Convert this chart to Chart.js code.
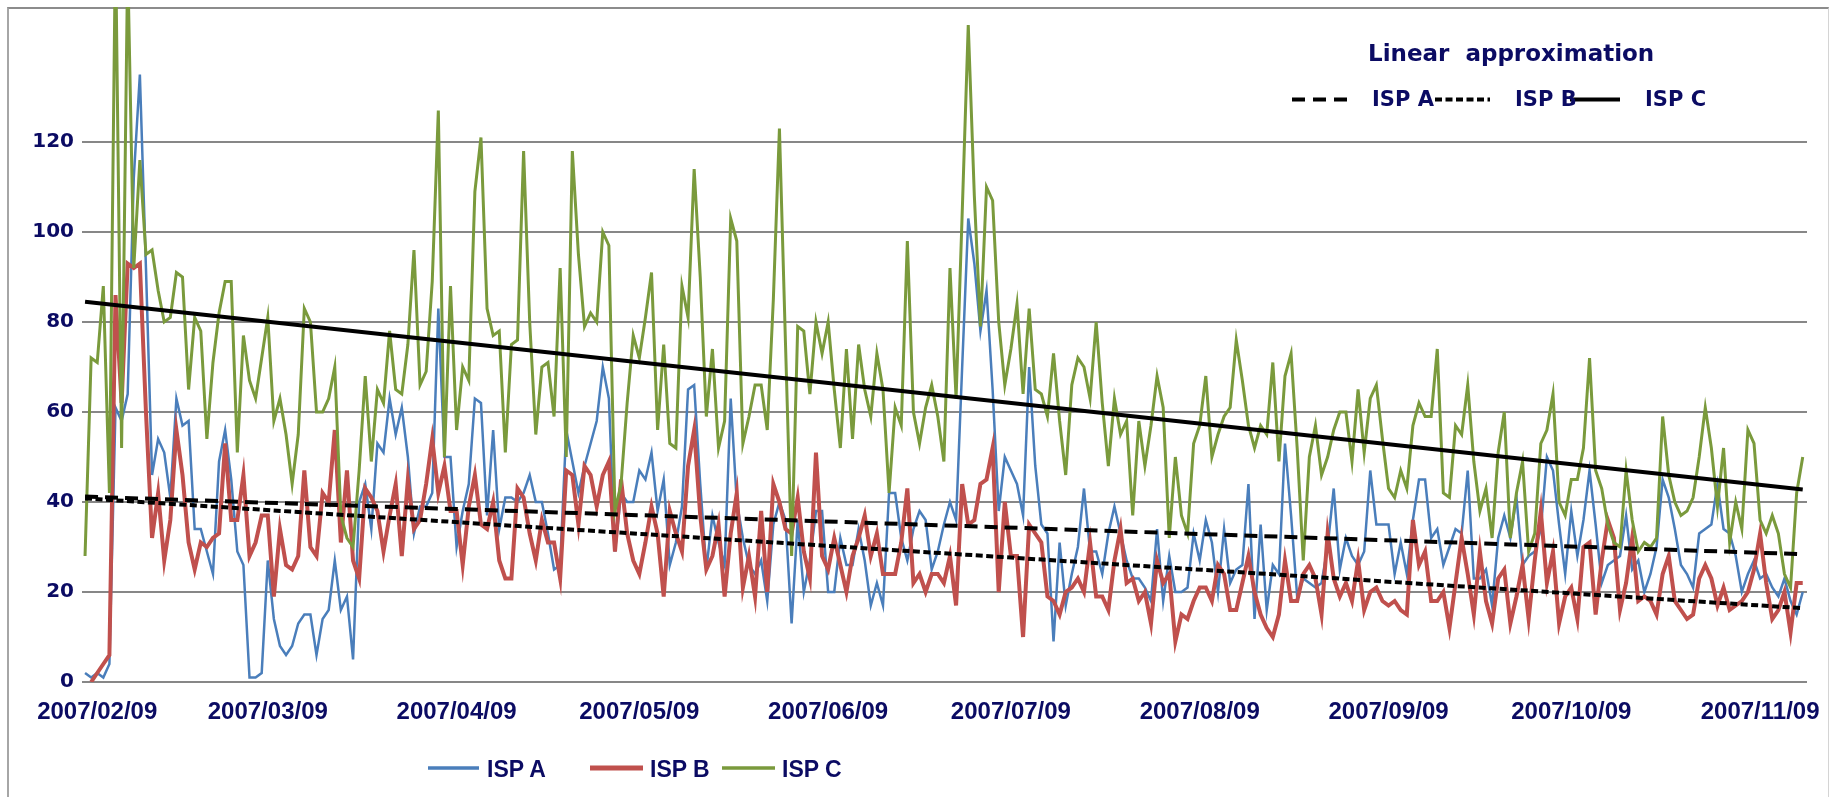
<!DOCTYPE html>
<html>
<head>
<meta charset="utf-8">
<title>ISP A / ISP B / ISP C</title>
<script src="https://cdn.jsdelivr.net/npm/chart.js@4.4.1/dist/chart.umd.min.js"></script>
<style>
  html, body { margin: 0; padding: 0; background: #fff; }
  #wrap { position: relative; width: 1829px; height: 797px; overflow: hidden; }
  #frame {
    position: absolute; left: 7px; top: 7px; width: 1822px; height: 820px;
    border-left: 2px solid #a6a6a6; border-top: 2px solid #8c8c8c; border-right: 1px solid #d4d4d4;
    box-sizing: border-box;
  }
  #salesChart { position: absolute; left: 0; top: 0; }
  #marks { position: absolute; left: 0; top: 0; }
  .txt { position: absolute; white-space: pre; color: #0b0b63; font-weight: bold; line-height: 1; }
  .wide { font-family: "DejaVu Sans", Verdana, sans-serif; }
  .arial { font-family: "Liberation Sans", Arial, sans-serif; }
</style>
</head>
<body>
<div id="wrap">
  <div id="frame"></div>
  <canvas id="salesChart" width="1829" height="797"></canvas>

  <!-- legend line samples -->
  <svg id="marks" width="1829" height="797">
    <line x1="1292" y1="99.5" x2="1347" y2="99.5" stroke="#000" stroke-width="4" stroke-dasharray="13 8"/>
    <line x1="1435" y1="99.5" x2="1490" y2="99.5" stroke="#000" stroke-width="4" stroke-dasharray="7 3.5"/>
    <line x1="1570" y1="99.5" x2="1620" y2="99.5" stroke="#000" stroke-width="4"/>
    <line x1="428" y1="768" x2="479" y2="768" stroke="#4a7ebb" stroke-width="3.5"/>
    <line x1="590" y1="768" x2="643" y2="768" stroke="#c0504d" stroke-width="5"/>
    <line x1="722" y1="768" x2="775" y2="768" stroke="#7a9a3c" stroke-width="3.5"/>
  </svg>

  <div class="txt wide" style="left:1368px; top:42px; font-size:23px;">Linear  approximation</div>
  <div class="txt wide" style="left:1372px; top:89px; font-size:21px;">ISP A</div>
  <div class="txt wide" style="left:1515px; top:89px; font-size:21px;">ISP B</div>
  <div class="txt wide" style="left:1645px; top:89px; font-size:21px;">ISP C</div>

  <div class="txt arial" style="left:487px; top:758px; font-size:23px;">ISP A</div>
  <div class="txt arial" style="left:650px; top:758px; font-size:23px;">ISP B</div>
  <div class="txt arial" style="left:782px; top:758px; font-size:23px;">ISP C</div>
</div>

<script>
// one value per day, starting 2007/02/07
const ispA = [
    2, 1, 2, 1, 4, 61, 58, 64, 112, 135,
    92, 46, 54, 51, 41, 63, 57, 58, 34, 34,
    29, 24, 49, 56, 45, 29, 26, 1, 1, 2,
    27, 14, 8, 6, 8, 13, 15, 15, 6, 14,
    16, 27, 16, 19, 5, 40, 44, 34, 53, 51,
    63, 55, 61, 50, 33, 39, 39, 42, 83, 50,
    50, 30, 38, 44, 63, 62, 37, 56, 34, 41,
    41, 40, 42, 46, 40, 40, 33, 25, 26, 56,
    49, 42, 48, 53, 58, 70, 63, 29, 42, 40,
    40, 47, 45, 51, 38, 45, 26, 31, 39, 65,
    66, 44, 25, 37, 31, 26, 63, 40, 32, 26,
    24, 27, 18, 35, 40, 36, 13, 36, 20, 27,
    38, 38, 20, 20, 32, 26, 26, 34, 27, 17,
    22, 17, 42, 42, 32, 27, 34, 38, 36, 25,
    29, 35, 40, 36, 70, 103, 93, 78, 87, 65,
    38, 50, 47, 44, 37, 70, 48, 35, 33, 9,
    31, 17, 24, 30, 43, 29, 29, 24, 33, 39,
    33, 27, 23, 23, 21, 18, 34, 18, 28, 20,
    20, 21, 33, 27, 36, 31, 20, 34, 22, 25,
    26, 44, 14, 35, 16, 26, 24, 53, 37, 19,
    23, 22, 21, 22, 30, 43, 25, 32, 28, 26,
    29, 47, 35, 35, 35, 24, 31, 24, 36, 45,
    45, 32, 34, 26, 30, 34, 33, 47, 23, 23,
    25, 17, 32, 37, 32, 41, 26, 28, 29, 34,
    50, 47, 35, 24, 38, 28, 36, 47, 35, 22,
    26, 27, 28, 37, 25, 27, 20, 24, 30, 45,
    41, 34, 26, 24, 21, 33, 34, 35, 44, 34,
    33, 28, 20, 24, 27, 23, 24, 21, 19, 23,
    18, 15, 20
];

const ispB = [
    null, 0, 2, 4, 6, 86, 62, 93, 92, 93,
    60, 32, 42, 27, 36, 56, 46, 31, 25, 31,
    30, 32, 33, 53, 36, 36, 46, 28, 31, 37,
    37, 19, 34, 26, 25, 28, 47, 30, 28, 42,
    40, 56, 31, 47, 27, 23, 43, 41, 38, 29,
    37, 44, 28, 45, 34, 36, 44, 54, 42, 48,
    38, 38, 26, 39, 46, 35, 34, 40, 27, 23,
    23, 43, 41, 33, 27, 36, 31, 31, 23, 47,
    46, 35, 48, 46, 39, 46, 49, 29, 45, 33,
    27, 24, 31, 39, 33, 19, 38, 33, 29, 48,
    56, 37, 25, 28, 35, 19, 33, 42, 21, 28,
    19, 38, 20, 44, 40, 34, 33, 41, 29, 23,
    51, 28, 25, 32, 26, 20, 28, 32, 37, 28,
    33, 24, 24, 24, 31, 43, 22, 24, 20, 24,
    24, 22, 28, 17, 44, 35, 36, 44, 45, 52,
    20, 40, 28, 28, 10, 35, 33, 31, 19, 18,
    15, 20, 21, 23, 20, 31, 19, 19, 16, 27,
    34, 22, 23, 18, 20, 13, 27, 22, 24, 9,
    15, 14, 18, 21, 21, 18, 26, 24, 16, 16,
    22, 28, 20, 15, 12, 10, 15, 27, 18, 18,
    24, 26, 23, 15, 33, 23, 19, 22, 18, 27,
    16, 20, 21, 18, 17, 18, 16, 15, 36, 26,
    29, 18, 18, 20, 12, 22, 32, 24, 15, 29,
    18, 13, 23, 25, 13, 19, 26, 14, 27, 38,
    22, 29, 13, 19, 21, 14, 30, 31, 15, 27,
    36, 32, 16, 22, 32, 18, 19, 18, 15, 24,
    28, 18, 16, 14, 15, 23, 26, 23, 17, 21,
    16, 17, 18, 20, 25, 33, 22, 14, 16, 20,
    11, 22, 22
];

const ispC = [
    28, 72, 71, 88, 42, 165, 52, 160, 92, 116,
    95, 96, 87, 80, 81, 91, 90, 65, 81, 78,
    54, 71, 82, 89, 89, 51, 77, 67, 63, 72,
    81, 58, 63, 55, 44, 55, 83, 80, 60, 60,
    63, 70, 37, 32, 30, 47, 68, 49, 65, 62,
    78, 65, 64, 75, 96, 66, 69, 89, 127, 50,
    88, 56, 70, 67, 109, 121, 83, 77, 78, 51,
    75, 76, 118, 80, 55, 70, 71, 59, 92, 50,
    118, 95, 79, 82, 80, 100, 97, 38, 44, 62,
    77, 72, 81, 91, 56, 75, 53, 52, 88, 81,
    114, 90, 59, 74, 52, 58, 103, 98, 53, 59,
    66, 66, 56, 85, 123, 75, 28, 79, 78, 64,
    80, 73, 80, 65, 52, 74, 54, 75, 65, 59,
    73, 65, 42, 61, 57, 98, 60, 53, 61, 66,
    59, 49, 92, 63, 104, 146, 108, 79, 110, 107,
    80, 66, 74, 84, 64, 83, 65, 64, 59, 73,
    58, 46, 66, 72, 70, 63, 80, 62, 48, 63,
    55, 58, 37, 58, 48, 57, 68, 61, 32, 50,
    37, 33, 53, 57, 68, 50, 55, 59, 61, 76,
    67, 57, 52, 57, 55, 71, 49, 68, 73, 52,
    27, 50, 57, 46, 50, 56, 60, 60, 49, 65,
    51, 63, 66, 54, 43, 41, 47, 43, 57, 62,
    59, 59, 74, 42, 41, 57, 55, 66, 49, 38,
    43, 32, 51, 60, 32, 42, 49, 29, 33, 53,
    56, 64, 40, 37, 45, 45, 52, 72, 47, 43,
    35, 31, 30, 47, 36, 29, 31, 30, 32, 59,
    46, 40, 37, 38, 41, 50, 61, 52, 39, 52,
    31, 40, 34, 56, 53, 36, 33, 37, 33, 24,
    21, 42, 50
];

// linear approximation, value at first and last day
const trendA = [41.2, 28.4];
const trendB = [40.8, 16.4];
const trendC = [84.5, 42.8];

// day index (from 2007/02/07) of each date label
const xTickIdx = [2, 30, 61, 91, 122, 152, 183, 214, 244, 275];
const xTickLabels = ["2007/02/09", "2007/03/09", "2007/04/09", "2007/05/09", "2007/06/09",
                     "2007/07/09", "2007/08/09", "2007/09/09", "2007/10/09", "2007/11/09"];
const yTicks = [0, 20, 40, 60, 80, 100, 120];

const navy = "#0b0b63";

function toPoints(arr) {
    return arr.map((v, i) => ({ x: i, y: v }));
}

function trendPoints(t) {
    return [{ x: 0, y: t[0] }, { x: ispA.length - 1, y: t[1] }];
}

// drop the extra room Chart.js keeps for edge labels
function noEdgePadding(scale) {
    scale.paddingTop = 0;
    scale.paddingBottom = 0;
    scale.paddingLeft = 0;
    scale.paddingRight = 0;
}

document.addEventListener("DOMContentLoaded", function () {
    const ctx = document.getElementById("salesChart").getContext("2d");

    new Chart(ctx, {
        type: "line",
        data: {
            datasets: [
                { label: "ISP A trend", data: trendPoints(trendA), borderColor: "#000", borderWidth: 4,
                  borderDash: [13, 7], pointRadius: 0, order: 0 },
                { label: "ISP B trend", data: trendPoints(trendB), borderColor: "#000", borderWidth: 4,
                  borderDash: [7, 3.5], pointRadius: 0, order: 0 },
                { label: "ISP C trend", data: trendPoints(trendC), borderColor: "#000", borderWidth: 4,
                  pointRadius: 0, order: 0 },
                { label: "ISP C", data: toPoints(ispC), borderColor: "#7a9a3c", borderWidth: 3,
                  pointRadius: 0, order: 1 },
                { label: "ISP B", data: toPoints(ispB), borderColor: "#c0504d", borderWidth: 4,
                  pointRadius: 0, order: 2 },
                { label: "ISP A", data: toPoints(ispA), borderColor: "#4a7ebb", borderWidth: 2.5,
                  pointRadius: 0, order: 3 }
            ]
        },
        options: {
            responsive: false,
            animation: false,
            devicePixelRatio: 1,
            events: [],
            layout: { autoPadding: false, padding: { top: 7, right: 22, left: 0, bottom: 0 } },
            plugins: {
                legend: { display: false },
                tooltip: { enabled: false }
            },
            elements: { line: { tension: 0, fill: false } },
            scales: {
                x: {
                    type: "linear",
                    min: -0.5,
                    max: 282.7,
                    grid: { display: false },
                    border: { display: false },
                    afterBuildTicks: function (scale) {
                        scale.ticks = xTickIdx.map(v => ({ value: v }));
                    },
                    afterFit: function (scale) {
                        scale.height = 115;
                        noEdgePadding(scale);
                    },
                    ticks: {
                        autoSkip: false,
                        maxRotation: 0,
                        padding: 8,
                        color: navy,
                        font: { family: "Liberation Sans, Arial, sans-serif", size: 24, weight: "bold" },
                        callback: function (value) {
                            const k = xTickIdx.indexOf(value);
                            return k >= 0 ? xTickLabels[k] : "";
                        }
                    }
                },
                y: {
                    min: 0,
                    max: 150,
                    afterBuildTicks: function (scale) {
                        scale.ticks = yTicks.map(v => ({ value: v }));
                    },
                    afterFit: function (scale) {
                        scale.width = 82;
                        noEdgePadding(scale);
                    },
                    grid: { color: "#878787", lineWidth: 2, drawTicks: false },
                    border: { display: false },
                    ticks: {
                        padding: 8,
                        color: navy,
                        font: { family: "DejaVu Sans, Verdana, sans-serif", size: 20, weight: "bold" }
                    }
                }
            }
        }
    });
});
</script>
</body>
</html>
